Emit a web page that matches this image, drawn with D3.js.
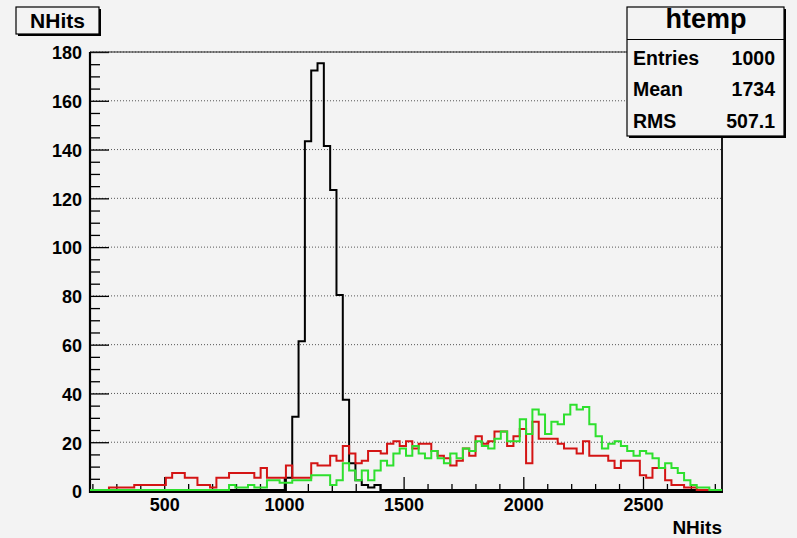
<!DOCTYPE html>
<html>
<head>
<meta charset="utf-8">
<script src="https://cdn.jsdelivr.net/npm/d3@7"></script>
<style>
  body { margin: 0; background: #f3f3f3; }
  svg { display: block; font-family: "Liberation Sans", Arial, sans-serif; font-weight: bold; }
  .grid line { stroke: #555; stroke-width: 1; stroke-dasharray: 1,2; }
  .tick text { font-size: 18px; font-weight: bold; fill: #000; }
  .tick line { stroke: #000; stroke-width: 1.3; }
</style>
</head>
<body>
<svg id="chart" width="797" height="538"></svg>
<script>
// histogram binning (NHits)
const xMin = 190, xMax = 2830, nBins = 100;

// bin contents, bin 0 .. 99
const blackCounts = [
  0,0,0,0,0,0,0,0,0,0, 0,0,0,0,0,0,0,0,0,0,
  0,0,0,0,0,0,0,0,0,0, 0,5,30,61,143,172,175,141,123,80,
  37,11,4,2,1,2,0,0,0,0, 0,0,0,0,0,0,0,0,0,0,
  0,0,0,0,0,0,0,0,0,0, 0,0,0,0,0,0,0,0,0,0,
  0,0,0,0,0,0,0,0,0,0, 0,0,0,0,0,0,0,0,0,0
];
const redCounts = [
  0,0,0,1,1,1,1,2,2,2, 2,2,5,7,7,5,5,2,2,1,
  5,5,7,7,7,7,5,9,5,5, 5,10,5,5,5,11,10,10,14,12,
  18,15,11,12,16,16,15,19,20,18, 20,17,19,19,16,14,13,10,12,17,
  14,22,19,20,24,24,18,22,25,11, 28,21,21,21,19,17,17,15,20,14,
  14,14,12,9,12,12,12,6,5,9, 9,4,2,2,1,1,0,0,0,0
];
const greenCounts = [
  0,0,0,0,0,0,0,0,0,0, 0,0,0,0,0,0,0,0,0,0,
  0,0,2,1,1,2,1,1,4,4, 3,3,4,4,4,6,6,6,2,4,
  11,8,4,8,4,8,12,10,15,17, 14,18,15,13,16,13,11,15,13,17,
  16,20,18,17,21,24,20,20,29,23, 33,31,23,28,27,31,35,33,34,27,
  22,17,19,20,18,16,14,16,15,13, 9,11,9,7,4,2,1,1,0,0
];

const xMajor = [500, 1000, 1500, 2000, 2500];
const xMinor = [200,300,400,600,700,800,900,1100,1200,1300,1400,1600,1700,1800,1900,2100,2200,2300,2400,2600,2700,2800];
const yMajor = [0, 20, 40, 60, 80, 100, 120, 140, 160, 180];
const yMinor = d3.range(5, 180, 5).filter(v => v % 20 !== 0);

const statsRows = [["Entries", "1000"], ["Mean", "1734"], ["RMS", "507.1"]];

const svg = d3.select('#chart');
const frame = {left: 90, right: 722, top: 52, bottom: 491};

const x = d3.scaleLinear().domain([xMin, xMax]).range([frame.left, frame.right]);
const y = d3.scaleLinear().domain([0, 180]).range([frame.bottom, frame.top]);
const binW = (xMax - xMin) / nBins;

// grid lines
svg.append('g').attr('class', 'grid')
  .selectAll('line').data(yMajor.filter(v => v > 0)).enter().append('line')
    .attr('x1', frame.left).attr('x2', frame.right)
    .attr('y1', d => y(d)).attr('y2', d => y(d));

// axes: ticks point into the frame
const xAxisG = svg.append('g').attr('transform', `translate(0,${frame.bottom})`);
xAxisG.call(d3.axisBottom(x).tickValues(xMajor).tickSize(-14).tickPadding(7).tickSizeOuter(0).tickFormat(d3.format('d')));
xAxisG.append('g').call(d3.axisBottom(x).tickValues(xMinor).tickSize(-7).tickFormat('').tickSizeOuter(0));
xAxisG.selectAll('.domain').remove();

const yAxisG = svg.append('g').attr('transform', `translate(${frame.left},0)`);
yAxisG.call(d3.axisLeft(y).tickValues(yMajor).tickSize(-19).tickPadding(8).tickSizeOuter(0));
yAxisG.append('g').call(d3.axisLeft(y).tickValues(yMinor).tickSize(-10).tickFormat('').tickSizeOuter(0));
yAxisG.selectAll('.domain').remove();
yAxisG.selectAll('.tick text').attr('dy', '0.38em');

// frame lines
svg.append('line').attr('x1', frame.left).attr('x2', frame.right).attr('y1', frame.top).attr('y2', frame.top)
  .attr('stroke', '#222').attr('stroke-width', 1);
svg.append('line').attr('x1', frame.right).attr('x2', frame.right).attr('y1', frame.top).attr('y2', frame.bottom)
  .attr('stroke', '#000').attr('stroke-width', 1.8);
svg.append('line').attr('x1', frame.left).attr('x2', frame.left).attr('y1', frame.top).attr('y2', frame.bottom + 2)
  .attr('stroke', '#000').attr('stroke-width', 2.2);
svg.append('line').attr('x1', frame.left - 1).attr('x2', frame.right + 1).attr('y1', frame.bottom + 1).attr('y2', frame.bottom + 1)
  .attr('stroke', '#000').attr('stroke-width', 2.2);

// histogram outlines, ROOT style steps, drawn over the axes
const stepLine = d3.line();
const drawHist = (counts, colour) => {
  const pts = [[x(xMin), y(0) - 1]];
  counts.forEach((c, i) => {
    pts.push([x(xMin + i * binW), y(c) - 1]);
    pts.push([x(xMin + (i + 1) * binW), y(c) - 1]);
  });
  pts.push([x(xMax), y(0) - 1]);
  svg.append('path')
    .attr('d', stepLine(pts))
    .attr('fill', 'none')
    .attr('stroke', colour)
    .attr('stroke-width', 2)
    .attr('stroke-linejoin', 'miter');
};
drawHist(blackCounts, '#000');
drawHist(redCounts, '#d41414');
drawHist(greenCounts, '#2ee02e');

// x axis title
svg.append('text').attr('x', 722).attr('y', 534).attr('text-anchor', 'end')
  .attr('font-size', 19).text('NHits');

// pave with shadow
const pave = (x0, y0, w, h) => {
  svg.append('rect').attr('x', x0 + 2).attr('y', y0 + 2).attr('width', w).attr('height', h).attr('fill', '#000');
  svg.append('rect').attr('x', x0).attr('y', y0).attr('width', w).attr('height', h)
    .attr('fill', '#f3f3f3').attr('stroke', '#000').attr('stroke-width', 1.2);
};

// title box
pave(16, 7, 83, 27);
svg.append('text').attr('x', 57.5).attr('y', 28).attr('text-anchor', 'middle')
  .attr('font-size', 21).text('NHits');

// stats box
pave(627, 7, 157, 129);
svg.append('line').attr('x1', 627).attr('x2', 784).attr('y1', 39.5).attr('y2', 39.5)
  .attr('stroke', '#000').attr('stroke-width', 1.2);
svg.append('text').attr('x', 706).attr('y', 27.5).attr('text-anchor', 'middle')
  .attr('font-size', 27).text('htemp');
const rows = svg.append('g').selectAll('g').data(statsRows).enter().append('g')
  .attr('transform', (d, i) => `translate(0,${64.5 + i * 31.7})`);
rows.append('text').attr('x', 633).attr('font-size', 19.5).text(d => d[0]);
rows.append('text').attr('x', 775).attr('text-anchor', 'end').attr('font-size', 19.5).text(d => d[1]);
</script>
</body>
</html>
